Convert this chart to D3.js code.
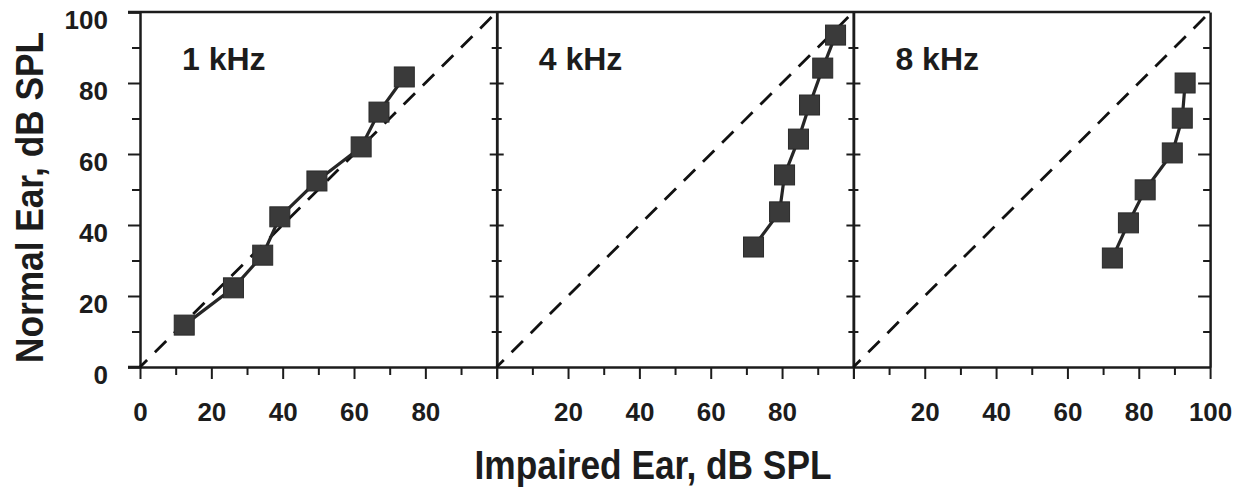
<!DOCTYPE html>
<html>
<head>
<meta charset="utf-8">
<script src="https://cdn.jsdelivr.net/npm/d3@7"></script>
<style>
  html, body { margin: 0; padding: 0; background: #fff; }
  svg { display: block; }
  text { font-family: "Liberation Sans", Arial, Helvetica, sans-serif; font-weight: bold; fill: #1c1c1c; }
</style>
</head>
<body>
<script>
// ---- data ----
const panelLabels = ["1 kHz", "4 kHz", "8 kHz"];
const impaired1k = [12.4, 26.2, 34.4, 39.2, 49.6, 62.0, 67.0, 74.1];
const normal1k   = [11.8, 22.3, 31.5, 42.3, 52.4, 62.0, 71.8, 81.7];
const impaired4k = [72.0, 79.3, 80.7, 84.6, 87.7, 91.4, 95.0];
const normal4k   = [33.8, 43.7, 54.1, 64.2, 73.8, 84.2, 93.5];
const impaired8k = [72.6, 77.1, 81.8, 89.4, 92.2, 93.0];
const normal8k   = [30.7, 40.6, 49.9, 60.3, 70.1, 80.0];
const yTickValues = [0, 20, 40, 60, 80, 100];
const yMinorTicks = [10, 30, 50, 70, 90];
const xTickLabelsPerPanel = [[0, 20, 40, 60, 80], [20, 40, 60, 80], [20, 40, 60, 80, 100]];
const xMajorTicks = [0, 20, 40, 60, 80, 100];
const xMinorTicks = [10, 30, 50, 70, 90];
const identityLine = [0, 100];
const xTitle = "Impaired Ear, dB SPL";
const yTitle = "Normal Ear, dB SPL";

const panels = [
  { label: panelLabels[0], xs: impaired1k, ys: normal1k },
  { label: panelLabels[1], xs: impaired4k, ys: normal4k },
  { label: panelLabels[2], xs: impaired8k, ys: normal8k }
];

// ---- layout ----
const W = 1245, H = 491;
const left0 = 140, panelW = 356.7, plotTop = 12, plotBottom = 367;
const svg = d3.select("body").append("svg").attr("width", W).attr("height", H);

const y = d3.scaleLinear().domain([0, 100]).range([plotBottom, plotTop]);
const xScales = panels.map((p, i) => d3.scaleLinear().domain([0, 100]).range([left0 + i * panelW, left0 + (i + 1) * panelW]));

const AX = "#1c1c1c";
function styleAxis(g, sw) {
  g.selectAll(".domain").attr("stroke", AX).attr("stroke-width", sw);
  g.selectAll(".tick line").attr("stroke", AX).attr("stroke-width", 2);
}

// frame top line
const xFirst = xScales[0], xLast = xScales[2];
svg.append("line")
  .attr("x1", xFirst(0) - 12).attr("x2", xLast(100))
  .attr("y1", y(100)).attr("y2", y(100))
  .attr("stroke", AX).attr("stroke-width", 2.5);

// left y-axis
const gLeft = svg.append("g").attr("transform", `translate(${xFirst(0)},0)`)
  .call(d3.axisLeft(y).tickValues(yTickValues).tickSize(12).tickPadding(20).tickFormat(d3.format("d")));
gLeft.selectAll(".tick text").attr("font-size", 26).attr("dy", "0.62em").attr("fill", "#1c1c1c")
  .style("font-family", '"Liberation Sans", Arial, sans-serif').style("font-weight", "bold");
styleAxis(gLeft, 2.5);
const gLeftMinor = svg.append("g").attr("transform", `translate(${xFirst(0)},0)`)
  .call(d3.axisLeft(y).tickValues(yMinorTicks).tickSize(8).tickFormat(""));
gLeftMinor.select(".domain").remove();
styleAxis(gLeftMinor, 2.5);

// separators with ticks crossing both sides
[1, 2].forEach(i => {
  const sx = xScales[i](0);
  [d3.axisLeft, d3.axisRight].forEach(ax => {
    const g1 = svg.append("g").attr("transform", `translate(${sx},0)`)
      .call(ax(y).tickValues(yTickValues.slice(1, -1)).tickSize(7).tickSizeOuter(0).tickFormat(""));
    styleAxis(g1, 2.5);
    const g2 = svg.append("g").attr("transform", `translate(${sx},0)`)
      .call(ax(y).tickValues(yMinorTicks).tickSize(5).tickSizeOuter(0).tickFormat(""));
    g2.select(".domain").remove();
    styleAxis(g2, 2.5);
  });
});

// right axis with inward ticks
const rx = xLast(100);
const gRight = svg.append("g").attr("transform", `translate(${rx},0)`)
  .call(d3.axisLeft(y).tickValues(yTickValues.slice(1, -1)).tickSize(12).tickSizeOuter(0).tickFormat(""));
styleAxis(gRight, 2.5);
const gRightMinor = svg.append("g").attr("transform", `translate(${rx},0)`)
  .call(d3.axisLeft(y).tickValues(yMinorTicks).tickSize(7).tickSizeOuter(0).tickFormat(""));
gRightMinor.select(".domain").remove();
styleAxis(gRightMinor, 2.5);

// bottom axes
panels.forEach((p, i) => {
  const x = xScales[i];
  const labels = xTickLabelsPerPanel[i];
  const gB = svg.append("g").attr("transform", `translate(0,${y(0)})`)
    .call(d3.axisBottom(x).tickValues(xMajorTicks).tickSize(12).tickSizeOuter(0).tickPadding(24)
      .tickFormat(d => labels.includes(d) ? String(d) : ""));
  gB.selectAll(".tick text").attr("font-size", 26).attr("fill", "#1c1c1c")
    .style("font-family", '"Liberation Sans", Arial, sans-serif').style("font-weight", "bold");
  styleAxis(gB, 2.5);
  const gBm = svg.append("g").attr("transform", `translate(0,${y(0)})`)
    .call(d3.axisBottom(x).tickValues(xMinorTicks).tickSize(8).tickSizeOuter(0).tickFormat(""));
  gBm.select(".domain").remove();
  styleAxis(gBm, 2.5);
});
// extend bottom line left like the outward tick
svg.append("line")
  .attr("x1", xFirst(0) - 12).attr("x2", xFirst(0))
  .attr("y1", y(0)).attr("y2", y(0))
  .attr("stroke", AX).attr("stroke-width", 2.5);

// panels content
panels.forEach((p, i) => {
  const x = xScales[i];
  const g = svg.append("g");
  g.append("path")
    .datum(identityLine)
    .attr("d", d3.line().x(d => x(d)).y(d => y(d)))
    .attr("fill", "none").attr("stroke", "#111").attr("stroke-width", 2.8)
    .attr("stroke-dasharray", "16,11").attr("stroke-dashoffset", 6);
  const pts = p.xs.map((v, k) => [v, p.ys[k]]);
  g.append("path")
    .datum(pts)
    .attr("d", d3.line().x(d => x(d[0])).y(d => y(d[1])))
    .attr("fill", "none").attr("stroke", "#262626").attr("stroke-width", 3.2);
  const s = 20;
  g.selectAll("rect").data(pts).join("rect")
    .attr("x", d => x(d[0]) - s / 2).attr("y", d => y(d[1]) - s / 2)
    .attr("width", s).attr("height", s)
    .attr("fill", "#3a3a3a").attr("stroke", "#2a2a2a").attr("stroke-width", 1);
  g.append("text")
    .attr("x", x(0) + 42).attr("y", 70)
    .attr("font-size", 32)
    .text(p.label);
});

// axis titles
svg.append("text")
  .attr("x", 653).attr("y", 479)
  .attr("text-anchor", "middle")
  .attr("font-size", 40)
  .attr("textLength", 357).attr("lengthAdjust", "spacingAndGlyphs")
  .text(xTitle);
svg.append("text")
  .attr("transform", `translate(43,${(plotTop + plotBottom) / 2 + 8}) rotate(-90)`)
  .attr("text-anchor", "middle")
  .attr("font-size", 38)
  .attr("textLength", 331).attr("lengthAdjust", "spacingAndGlyphs")
  .text(yTitle);
</script>
</body>
</html>
